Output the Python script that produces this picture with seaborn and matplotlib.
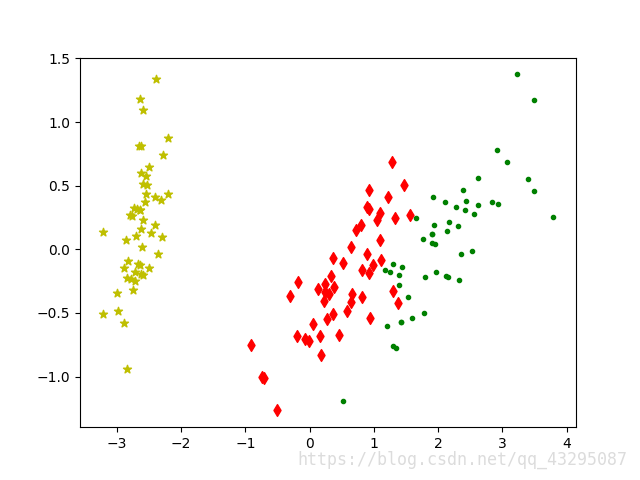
import matplotlib
matplotlib.use("Agg")
import matplotlib.pyplot as plt
import seaborn as sns
import pandas as pd

# PCA projection (2 components) of the three iris groups
setosa_x = [-2.684, -2.714, -2.889, -2.745, -2.729, -2.281, -2.821, -2.626, -2.886, -2.673,
            -2.507, -2.613, -2.786, -3.224, -2.645, -2.386, -2.624, -2.648, -2.200, -2.588,
            -2.310, -2.544, -3.216, -2.303, -2.356, -2.507, -2.469, -2.562, -2.640, -2.632,
            -2.587, -2.410, -2.649, -2.599, -2.637, -2.866, -2.625, -2.801, -2.981, -2.590,
            -2.770, -2.849, -2.997, -2.406, -2.209, -2.714, -2.538, -2.839, -2.543, -2.703]
setosa_y = [0.319, -0.177, -0.145, -0.318, 0.327, 0.741, -0.089, 0.163, -0.578, -0.114,
            0.645, 0.015, -0.235, -0.511, 1.179, 1.338, 0.811, 0.312, 0.873, 0.514,
            0.391, 0.433, 0.133, 0.099, -0.037, -0.146, 0.131, 0.368, 0.312, -0.197,
            -0.204, 0.411, 0.813, 1.093, -0.121, 0.069, 0.599, 0.269, -0.488, 0.229,
            0.264, -0.941, -0.342, 0.189, 0.437, -0.250, 0.504, -0.228, 0.579, 0.108]

versicolor_x = [1.285, 0.932, 1.464, 0.183, 1.088, 0.642, 1.095, -0.749, 1.044, -0.009,
                -0.508, 0.512, 0.265, 0.985, -0.174, 0.928, 0.660, 0.236, 0.945, 0.045,
                1.116, 0.358, 1.298, 0.922, 0.715, 0.900, 1.332, 1.558, 0.813, -0.306,
                -0.068, -0.190, 0.136, 1.380, 0.588, 0.807, 1.221, 0.815, 0.246, 0.166,
                0.465, 0.891, 0.231, -0.705, 0.357, 0.332, 0.376, 0.643, -0.906, 0.299]
versicolor_y = [0.685, 0.318, 0.504, -0.828, 0.075, -0.418, 0.283, -1.005, 0.228, -0.723,
                -1.266, -0.104, -0.550, -0.125, -0.255, 0.467, -0.353, -0.334, -0.543, -0.584,
                -0.085, -0.069, -0.328, -0.183, 0.149, 0.329, 0.244, 0.267, -0.163, -0.368,
                -0.705, -0.680, -0.314, -0.421, -0.484, 0.194, 0.408, -0.372, -0.269, -0.682,
                -0.671, -0.034, -0.404, -1.012, -0.505, -0.213, -0.293, 0.018, -0.756, -0.349]

virginica_x = [2.531, 1.415, 2.617, 1.972, 2.350, 3.397, 0.521, 2.933, 2.321, 2.917,
               1.662, 1.803, 2.166, 1.346, 1.586, 1.904, 1.950, 3.487, 3.796, 1.301,
               2.428, 1.199, 3.500, 1.389, 2.275, 2.614, 1.259, 1.291, 2.124, 2.388,
               2.842, 3.231, 2.159, 1.444, 1.781, 3.076, 2.144, 1.905, 1.169, 2.108,
               2.314, 1.922, 1.415, 2.563, 2.419, 1.944, 1.527, 1.764, 1.901, 1.390]
virginica_y = [-0.010, -0.575, 0.344, -0.180, -0.040, 0.551, -1.193, 0.356, -0.244, 0.783,
               0.242, -0.216, 0.216, -0.777, -0.540, 0.119, 0.042, 1.176, 0.257, -0.761,
               0.378, -0.606, 0.461, -0.204, 0.335, 0.561, -0.180, -0.117, -0.210, 0.465,
               0.375, 1.374, -0.217, -0.143, -0.500, 0.688, 0.140, 0.049, -0.165, 0.372,
               0.184, 0.409, -0.575, 0.278, 0.305, 0.188, -0.375, 0.079, 0.117, -0.283]

groups = [
    (setosa_x, setosa_y, "y", "*"),
    (versicolor_x, versicolor_y, "r", "d"),
    (virginica_x, virginica_y, "g", "."),
]

fig, ax = plt.subplots(figsize=(6.4, 4.8), dpi=100)

for xs, ys, c, m in groups:
    df = pd.DataFrame({"x": xs, "y": ys})
    sns.scatterplot(data=df, x="x", y="y", ax=ax, color=c, marker=m,
                    s=36, edgecolor=c, linewidth=1, legend=False)

ax.set_xlabel("")
ax.set_ylabel("")
ax.set_xticks([-3, -2, -1, 0, 1, 2, 3, 4])
ax.set_yticks([-1.0, -0.5, 0.0, 0.5, 1.0, 1.5])

# watermark from the original image
fig.text(0.981, 0.042, "https://blog.csdn.net/qq_43295087", ha="right", va="center",
         color="#dcdcdc", fontsize=12, family="DejaVu Sans Mono")

fig.savefig("out.png", dpi=100)
